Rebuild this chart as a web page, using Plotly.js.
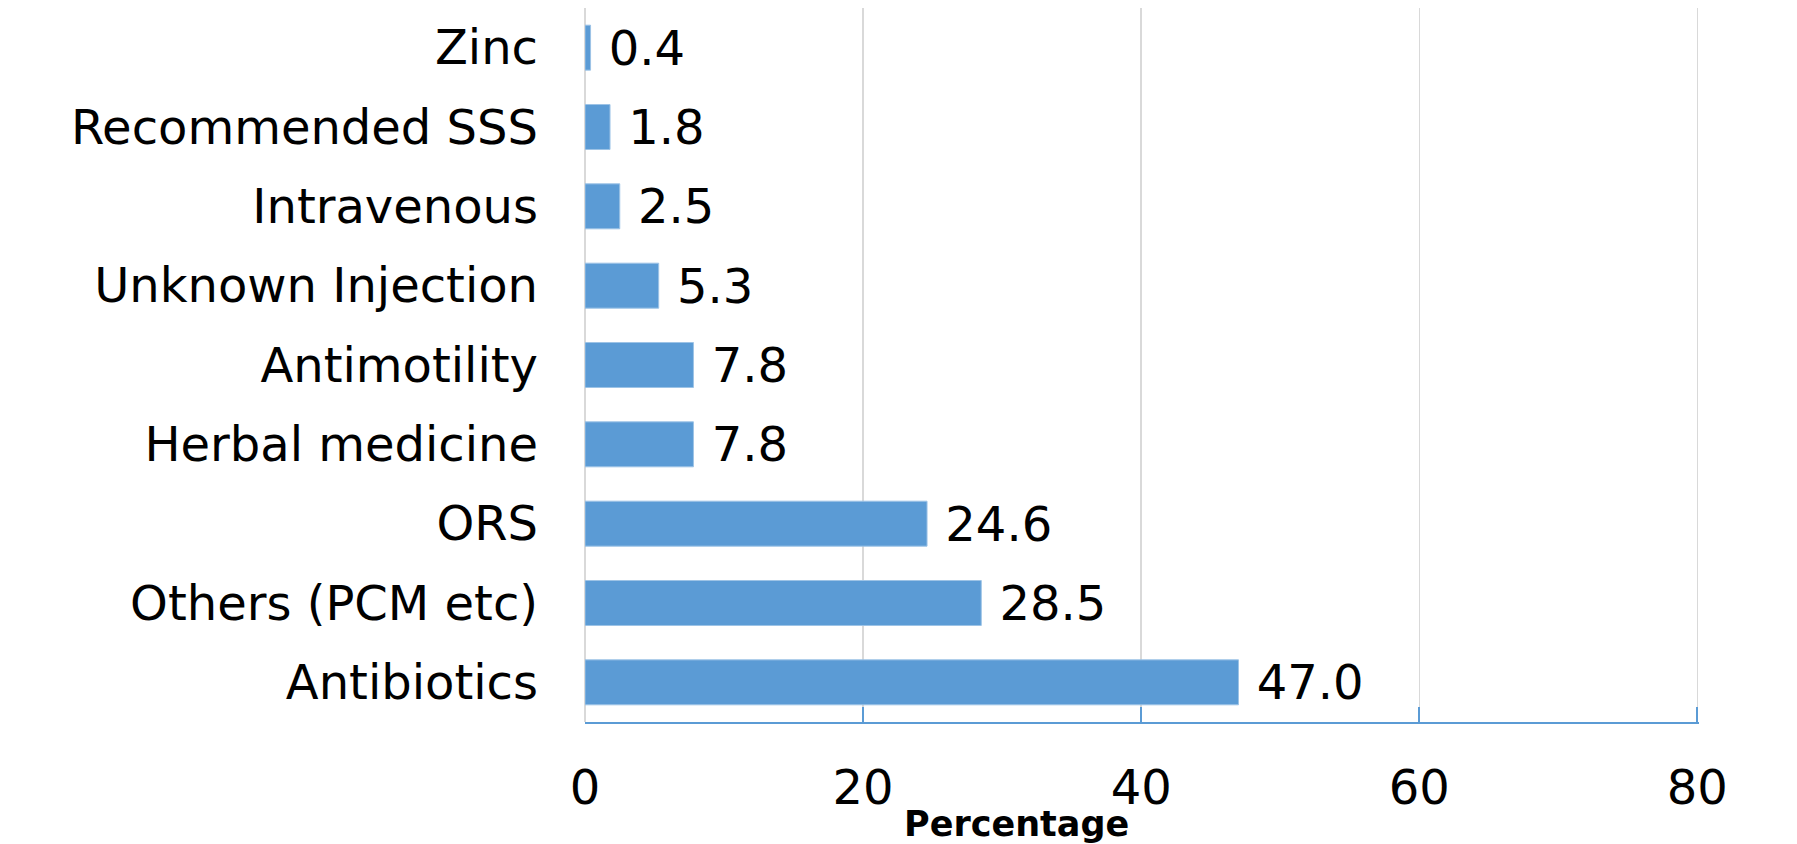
<!DOCTYPE html>
<html>
<head>
<meta charset="utf-8">
<script src="https://cdn.plot.ly/plotly-3.0.1.min.js"></script>
<style>
html,body{margin:0;padding:0;background:#fff;}
#chart{width:1797px;height:844px;}
</style>
</head>
<body>
<div id="chart"></div>
<script>
// Data (top to bottom as displayed)
const categories = ["Zinc", "Recommended SSS", "Intravenous", "Unknown Injection", "Antimotility", "Herbal medicine", "ORS", "Others (PCM etc)", "Antibiotics"];
const percentages = [0.4, 1.8, 2.5, 5.3, 7.8, 7.8, 24.6, 28.5, 47.0];
const xTickValues = [0, 20, 40, 60, 80];
const xTickLabels = ["0", "20", "40", "60", "80"];
const xAxisTitle = "Percentage";

const barColor = "#5b9bd5";
const fontFamily = "DejaVu Sans, Verdana, sans-serif";

const trace = {
  type: "bar",
  orientation: "h",
  y: categories,
  x: percentages,
  marker: {color: barColor, line: {color: "#9dc3e6", width: 1}},
  texttemplate: " %{x:.1f}",
  textposition: "outside",
  constraintext: "none",
  cliponaxis: false,
  textfont: {family: fontFamily, size: 48, color: "#000"},
  hoverinfo: "none"
};

const layout = {
  width: 1797,
  height: 844,
  margin: {l: 585, r: 98, t: 8, b: 122},
  paper_bgcolor: "#fff",
  plot_bgcolor: "#fff",
  showlegend: false,
  bargap: 0.433,
  font: {family: fontFamily, size: 48, color: "#000"},
  xaxis: {
    range: [0, 80.12],
    tickvals: xTickValues,
    ticktext: xTickLabels,
    showgrid: true,
    gridcolor: "#d9d9d9",
    gridwidth: 1.5,
    zeroline: true,
    zerolinecolor: "#d9d9d9",
    zerolinewidth: 1.5,
    showline: true,
    linecolor: barColor,
    linewidth: 2,
    ticks: "inside",
    ticklen: 15,
    tickwidth: 2,
    tickcolor: barColor,
    ticklabelstandoff: 22,
    tickfont: {family: fontFamily, size: 48, color: "#000"},
    fixedrange: true
  },
  yaxis: {
    type: "category",
    autorange: "reversed",
    showgrid: false,
    zeroline: false,
    showline: false,
    ticks: "",
    ticklabelstandoff: 46,
    tickfont: {family: fontFamily, size: 48, color: "#000"},
    fixedrange: true
  },
  annotations: [{
    text: "<b>" + xAxisTitle + "</b>",
    xref: "paper", yref: "paper",
    x: (1016 - 585) / 1114, y: -(824 - 722) / 714,
    xanchor: "center", yanchor: "middle",
    showarrow: false,
    font: {family: fontFamily, size: 35, color: "#000"}
  }]
};

Plotly.newPlot("chart", [trace], layout, {displayModeBar: false, staticPlot: true});
</script>
</body>
</html>
